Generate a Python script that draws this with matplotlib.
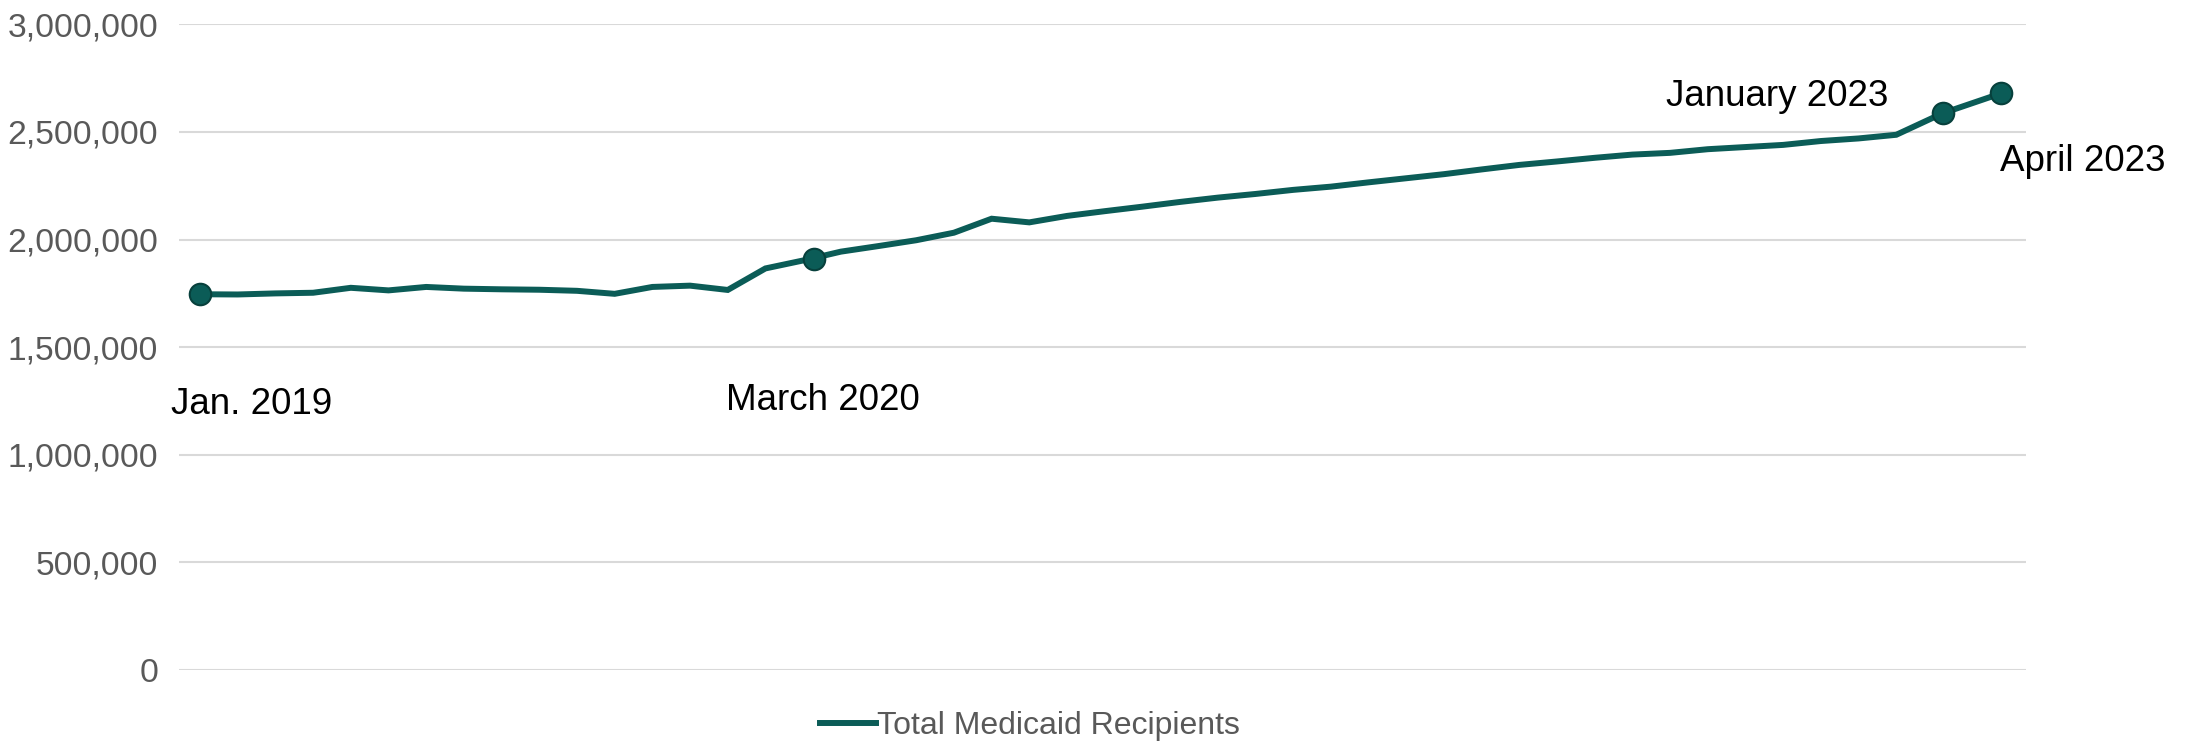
import matplotlib
matplotlib.use("Agg")

import matplotlib.pyplot as plt
from matplotlib.ticker import FuncFormatter

plt.rcParams["font.family"] = ["Liberation Sans", "DejaVu Sans"]

# monthly index (first point = Jan. 2019); the last two points sit off the monthly grid
period = [0, 1, 2, 3, 4, 5, 6, 7, 8, 9, 10, 11, 12, 13, 14, 15, 16, 17, 18, 19,
          20, 21, 22, 23, 24, 25, 26, 27, 28, 29, 30, 31, 32, 33, 34, 35, 36, 37,
          38, 39, 40, 41, 42, 43, 44, 45, 46.23, 47.79]
recipients = [1746000, 1745000, 1750000, 1753000, 1776000, 1764000, 1780000,
              1772000, 1769000, 1767000, 1762000, 1748000, 1780000, 1786000,
              1766000, 1866000, 1903000, 1944000, 1970000, 1997000, 2032000,
              2097000, 2080000, 2110000, 2132000, 2153000, 2175000, 2195000,
              2212000, 2231000, 2246000, 2266000, 2285000, 2304000, 2326000,
              2347000, 2363000, 2380000, 2395000, 2403000, 2420000, 2430000,
              2440000, 2458000, 2470000, 2487000, 2587000, 2680000]

# highlighted points
mark_labels = ["Jan. 2019", "March 2020", "January 2023", "April 2023"]
mark_period = [0, 16.29, 46.23, 47.79]
mark_values = [1746000, 1910000, 2587000, 2680000]
label_offsets = [(52, -110), (9, -142), (-165, 17), (81, -68)]  # pixels

y_ticks = [0, 500000, 1000000, 1500000, 2000000, 2500000, 3000000]

LINE = "#0b5c57"

fig = plt.figure(figsize=(21.94, 7.43), dpi=100)
ax = fig.add_axes([0.0816, 0.0982, 0.8418, 0.869])

line, = ax.plot(period, recipients, color=LINE, linewidth=4.3,
                solid_joinstyle="miter", label="Total Medicaid Recipients", zorder=3)
ax.plot(mark_period, mark_values, linestyle="none", marker="o", markersize=15.5,
        markerfacecolor=LINE, markeredgecolor="#07403c", markeredgewidth=1.5, zorder=4)

for text, x, y, off in zip(mark_labels, mark_period, mark_values, label_offsets):
    ax.annotate(text, (x, y), xytext=off, textcoords="offset pixels",
                ha="center", va="center", fontsize=26.5, color="black")

ax.set_xlim(-0.557, 48.44)
ax.set_ylim(0, 3000000)
ax.set_yticks(y_ticks)
ax.yaxis.set_major_formatter(FuncFormatter(lambda v, p: f"{int(v):,}"))
ax.set_xticks([])
ax.tick_params(axis="y", length=0, pad=15, labelsize=24.2, labelcolor="#595959")
ax.grid(axis="y", color="#d9d9d9", linewidth=1.5)
ax.set_axisbelow(True)
for side in ["top", "right", "left", "bottom"]:
    ax.spines[side].set_visible(False)

fig.legend(handles=[line], loc="center", bbox_to_anchor=(0.4695, 0.023),
           frameon=False, fontsize=23, handlelength=1.75, handletextpad=0.05,
           borderpad=0, labelcolor="#595959")

fig.savefig("out.png", dpi=100)
